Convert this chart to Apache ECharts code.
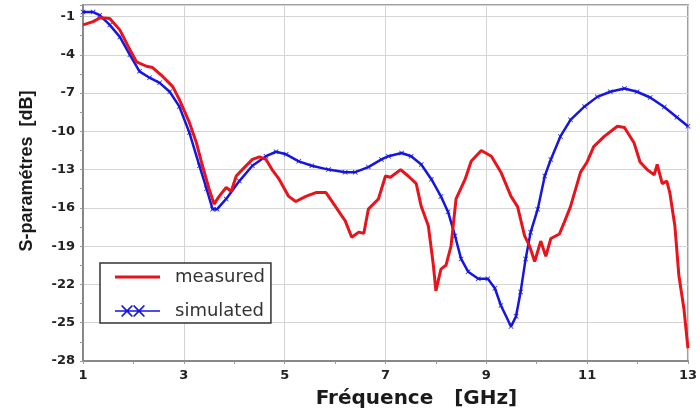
<!DOCTYPE html>
<html>
<head>
<meta charset="utf-8">
<script src="https://cdn.jsdelivr.net/npm/echarts@6/dist/echarts.min.js"></script>
<style>html,body{margin:0;padding:0;background:#fff}#c{width:700px;height:414px}</style>
</head>
<body>
<div id="c"></div>
<script>
const xTicks = [1, 3, 5, 7, 9, 11, 13];
const yTicks = [-28, -25, -22, -19, -16, -13, -10, -7, -4, -1];

const measuredFreq = [1.0,1.2,1.34,1.53,1.73,1.93,2.06,2.26,2.38,2.58,2.78,2.91,3.11,3.25,3.37,3.5,3.6,3.7,3.84,3.94,4.04,4.16,4.36,4.5,4.63,4.75,4.89,5.08,5.22,5.42,5.62,5.82,6.01,6.13,6.2,6.33,6.47,6.57,6.66,6.86,7.0,7.1,7.3,7.45,7.61,7.71,7.85,7.95,8.0,8.1,8.2,8.3,8.4,8.58,8.7,8.9,9.1,9.29,9.49,9.62,9.76,9.86,9.96,10.08,10.18,10.28,10.45,10.55,10.67,10.87,11.0,11.13,11.34,11.6,11.74,11.93,12.05,12.19,12.33,12.39,12.49,12.58,12.64,12.74,12.82,12.92,13.0];
const measuredDb = [-1.66,-1.4,-1.1,-1.15,-2.05,-3.6,-4.55,-4.9,-5.0,-5.7,-6.5,-7.5,-9.3,-10.9,-12.7,-14.5,-15.7,-15.1,-14.4,-14.7,-13.5,-13.0,-12.2,-12.0,-12.2,-13.0,-13.75,-15.1,-15.5,-15.1,-14.8,-14.8,-15.9,-16.6,-17.0,-18.3,-17.9,-18.0,-16.1,-15.3,-13.5,-13.6,-13.0,-13.5,-14.1,-15.9,-17.4,-20.5,-22.5,-20.8,-20.5,-19.0,-15.3,-13.75,-12.35,-11.5,-11.95,-13.2,-15.1,-15.9,-18.2,-19.0,-20.2,-18.6,-19.8,-18.4,-18.05,-17.1,-15.9,-13.2,-12.4,-11.2,-10.4,-9.6,-9.7,-10.9,-12.4,-13.0,-13.4,-12.6,-14.1,-13.9,-14.8,-17.4,-21.3,-23.9,-27.0];

const simulatedFreq = [1.0,1.2,1.33,1.53,1.73,1.93,2.12,2.32,2.52,2.72,2.91,3.11,3.31,3.45,3.57,3.66,3.84,4.1,4.36,4.63,4.83,5.03,5.28,5.54,5.87,6.2,6.4,6.66,6.92,7.06,7.32,7.51,7.71,7.91,8.1,8.24,8.38,8.5,8.64,8.84,9.03,9.17,9.29,9.49,9.59,9.68,9.78,9.88,10.02,10.16,10.28,10.47,10.67,10.95,11.2,11.46,11.74,11.99,12.25,12.53,12.78,13.0];
const simulatedDb = [-0.65,-0.65,-0.9,-1.66,-2.6,-4.0,-5.3,-5.8,-6.2,-6.9,-8.05,-10.1,-12.7,-14.5,-16.1,-16.1,-15.3,-13.9,-12.7,-11.95,-11.6,-11.8,-12.35,-12.7,-13.0,-13.2,-13.2,-12.8,-12.2,-11.95,-11.7,-11.95,-12.6,-13.75,-15.1,-16.3,-18.2,-20.0,-21.0,-21.55,-21.55,-22.3,-23.65,-25.3,-24.5,-22.6,-20.0,-17.9,-16.1,-13.5,-12.2,-10.4,-9.1,-8.05,-7.3,-6.9,-6.65,-6.9,-7.35,-8.1,-8.9,-9.6];

const seriesNames = ['measured', 'simulated'];
const xTitle = 'Fréquence   [GHz]';
const yTitle = 'S-paramétres  [dB]';

const pair = (xs, ys) => xs.map((x, i) => [x, ys[i]]);
const crossPath = 'path://M0,1L1,0L5,4L9,0L10,1L6,5L10,9L9,10L5,6L1,10L0,9L4,5Z';
const lineIcon = 'path://M0,0L45,0L45,3L0,3Z';
const crossLineIcon = 'path://M0,5.2L45,5.2L45,6.8L0,6.8Z' +
  'M6,1L7.2,0L12,4.8L16.8,0L18,1L13.2,6L18,11L16.8,12L12,7.2L7.2,12L6,11L10.8,6Z' +
  'M18,1L19.2,0L24,4.8L28.8,0L30,1L25.2,6L30,11L28.8,12L24,7.2L19.2,12L18,11L22.8,6Z';

const chart = echarts.init(document.getElementById('c'), null, {renderer: 'canvas'});
chart.setOption({
  animation: false,
  backgroundColor: '#ffffff',
  grid: {left: 83, right: 9, top: 5, bottom: 51, show: true, borderColor: '#a0a0a0', borderWidth: 2, containLabel: false},
  legend: {
    orient: 'vertical', left: 100, top: 263,
    backgroundColor: '#fff', borderColor: '#333', borderWidth: 1.5,
    padding: [5, 6, 3, 15],
    itemWidth: 45, itemHeight: 18, itemGap: 16,
    textStyle: {fontFamily: 'DejaVu Sans', fontSize: 18, color: '#333', padding: [0, 0, 0, 10]},
    data: [
      {name: seriesNames[0], icon: lineIcon},
      {name: seriesNames[1], icon: crossLineIcon}
    ]
  },
  xAxis: {
    type: 'value', min: xTicks[0], max: xTicks[xTicks.length - 1], interval: 2,
    name: xTitle, nameLocation: 'middle', nameGap: 28,
    nameTextStyle: {fontFamily: 'DejaVu Sans', fontWeight: 'bold', fontSize: 20, color: '#1a1a1a', padding: [0, 0, 0, 62]},
    axisLine: {lineStyle: {color: '#888', width: 2}},
    axisTick: {show: true, length: 3, lineStyle: {color: '#999'}},
    minorTick: {show: true, splitNumber: 2, length: 3, lineStyle: {color: '#999'}},
    axisLabel: {fontFamily: 'DejaVu Sans', fontWeight: 'bold', fontSize: 13, color: '#222', margin: 8},
    splitLine: {show: true, lineStyle: {color: '#d4d4d4', width: 1}}
  },
  yAxis: {
    type: 'value', min: yTicks[0], max: -0.1, interval: 3,
    name: yTitle, nameLocation: 'middle', nameGap: 47, nameRotate: 90,
    nameTextStyle: {fontFamily: 'Liberation Sans', fontWeight: 'bold', fontSize: 18, color: '#1a1a1a', padding: [0, 0, 0, 24]},
    axisLine: {show: true, lineStyle: {color: '#888', width: 2}},
    axisTick: {show: true, length: 3, lineStyle: {color: '#999'}},
    minorTick: {show: true, splitNumber: 2, length: 3, lineStyle: {color: '#999'}},
    axisLabel: {fontFamily: 'DejaVu Sans', fontWeight: 'bold', fontSize: 13, color: '#222', margin: 8, showMaxLabel: false,
      formatter: v => (yTicks.indexOf(v) >= 0 ? String(v) : '')},
    splitLine: {show: true, lineStyle: {color: '#d4d4d4', width: 1}}
  },
  series: [
    {
      name: seriesNames[0], type: 'line', data: pair(measuredFreq, measuredDb),
      showSymbol: false, symbol: 'none', smooth: false,
      lineStyle: {color: '#e8141c', width: 3}, itemStyle: {color: '#e8141c'}, z: 3
    },
    {
      name: seriesNames[1], type: 'line', data: pair(simulatedFreq, simulatedDb),
      showSymbol: true, symbol: crossPath, symbolSize: 5, smooth: false,
      lineStyle: {color: '#1616e0', width: 2.5}, itemStyle: {color: '#1616e0'}, z: 2
    }
  ]
});
</script>
</body>
</html>
